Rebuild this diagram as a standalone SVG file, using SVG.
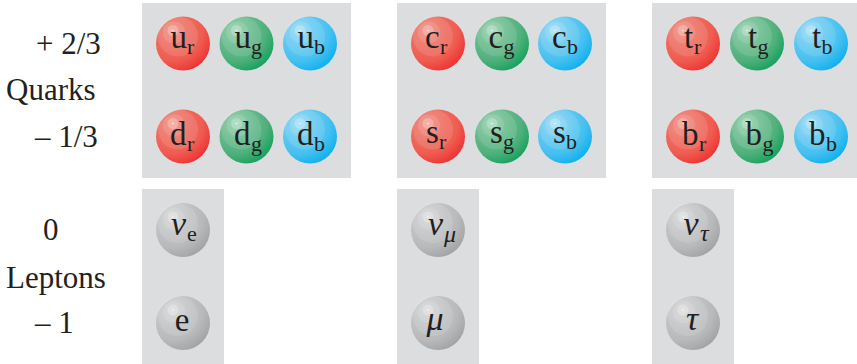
<svg xmlns="http://www.w3.org/2000/svg" width="857" height="364" viewBox="0 0 857 364">
<style>
text{font-family:"Liberation Serif","Times New Roman",serif;fill:#231f20}
.m{font-size:33px}.s{font-size:22px}
.lab{font-size:31px}
.gk{font-size:34px;font-style:italic}
.gs{font-size:24px;font-style:italic}
.p{fill:#dcddde}
.h{fill:#fff;fill-opacity:.24}
.h2{fill:#fff;fill-opacity:.11}
.d{fill:#fff;fill-opacity:.8}
</style>
<defs>
<radialGradient id="r" cx=".3" cy=".25" r=".88"><stop offset="0" stop-color="#ee7f72"/><stop offset=".65" stop-color="#ef5c50"/><stop offset=".88" stop-color="#ee3a38"/><stop offset="1" stop-color="#ed1c24"/></radialGradient>
<radialGradient id="g" cx=".3" cy=".25" r=".88"><stop offset="0" stop-color="#84c8a0"/><stop offset=".65" stop-color="#4fb07c"/><stop offset=".88" stop-color="#20a463"/><stop offset="1" stop-color="#00a651"/></radialGradient>
<radialGradient id="b" cx=".3" cy=".25" r=".88"><stop offset="0" stop-color="#86d3f3"/><stop offset=".65" stop-color="#45c0f0"/><stop offset=".88" stop-color="#18b3ee"/><stop offset="1" stop-color="#00aeef"/></radialGradient>
<radialGradient id="k" cx=".3" cy=".25" r=".88"><stop offset="0" stop-color="#cfd0d1"/><stop offset=".65" stop-color="#b8b9bb"/><stop offset=".88" stop-color="#a6a7a9"/><stop offset="1" stop-color="#939598"/></radialGradient>
<g id="gl"><circle cx="-5" cy="-7" r="20" class="h2"/><circle cx="-9" cy="-11" r="11" class="h2"/><circle cx="-10" cy="-13" r="5.500" class="h"/><circle cx="-10" cy="-13" r=".8" class="d"/></g>
</defs>
<g id="panels">
<rect class="p" x="142" y="3" width="209" height="175"/>
<rect class="p" x="397" y="3" width="209" height="175"/>
<rect class="p" x="652" y="3" width="209" height="175"/>
<rect class="p" x="142" y="189" width="82" height="175"/>
<rect class="p" x="397" y="189" width="82" height="175"/>
<rect class="p" x="652" y="189" width="82" height="175"/>
</g>
<g id="labels">
<text class="lab" x="36" y="54">+ 2/3</text>
<text class="lab" x="6" y="100">Quarks</text>
<text class="lab" x="35" y="147">– 1/3</text>
<text class="lab" x="43" y="240">0</text>
<text class="lab" x="6" y="288">Leptons</text>
<text class="lab" x="35" y="333">– 1</text>
</g>
<g id="ur"><circle cx="183" cy="43.500" r="27" fill="url(#r)"/><use href="#gl" x="183" y="43.500"/><text x="170.500" y="48" class="m">u</text><text x="187" y="54" class="s">r</text></g>
<g id="ug"><circle cx="246.500" cy="43.500" r="27" fill="url(#g)"/><use href="#gl" x="246.500" y="43.500"/><text x="234.500" y="48" class="m">u</text><text x="251" y="54" class="s">g</text></g>
<g id="ub"><circle cx="310" cy="43.500" r="27" fill="url(#b)"/><use href="#gl" x="310" y="43.500"/><text x="297.500" y="48" class="m">u</text><text x="314" y="54" class="s">b</text></g>
<g id="dr"><circle cx="183" cy="136.500" r="27" fill="url(#r)"/><use href="#gl" x="183" y="136.500"/><text x="170" y="144.500" class="m">d</text><text x="187" y="151" class="s">r</text></g>
<g id="dg"><circle cx="246.500" cy="136.500" r="27" fill="url(#g)"/><use href="#gl" x="246.500" y="136.500"/><text x="234" y="144.500" class="m">d</text><text x="251" y="151" class="s">g</text></g>
<g id="db"><circle cx="310" cy="136.500" r="27" fill="url(#b)"/><use href="#gl" x="310" y="136.500"/><text x="297" y="144.500" class="m">d</text><text x="314" y="151" class="s">b</text></g>
<g id="cr"><circle cx="438" cy="43.500" r="27" fill="url(#r)"/><use href="#gl" x="438" y="43.500"/><text x="425" y="48" class="m">c</text><text x="440" y="54" class="s">r</text></g>
<g id="cg"><circle cx="502" cy="43.500" r="27" fill="url(#g)"/><use href="#gl" x="502" y="43.500"/><text x="488.500" y="48" class="m">c</text><text x="503.500" y="54" class="s">g</text></g>
<g id="cb"><circle cx="565" cy="43.500" r="27" fill="url(#b)"/><use href="#gl" x="565" y="43.500"/><text x="552" y="48" class="m">c</text><text x="567" y="54" class="s">b</text></g>
<g id="sr"><circle cx="438" cy="136.500" r="27" fill="url(#r)"/><use href="#gl" x="438" y="136.500"/><text x="426" y="142.500" class="m">s</text><text x="439" y="148.500" class="s">r</text></g>
<g id="sg"><circle cx="502" cy="136.500" r="27" fill="url(#g)"/><use href="#gl" x="502" y="136.500"/><text x="490" y="142.500" class="m">s</text><text x="503" y="148.500" class="s">g</text></g>
<g id="sb"><circle cx="565" cy="136.500" r="27" fill="url(#b)"/><use href="#gl" x="565" y="136.500"/><text x="553" y="142.500" class="m">s</text><text x="566" y="148.500" class="s">b</text></g>
<g id="tr"><circle cx="693" cy="43.500" r="27" fill="url(#r)"/><use href="#gl" x="693" y="43.500"/><text x="684" y="48" class="m">t</text><text x="694" y="54" class="s">r</text></g>
<g id="tg"><circle cx="757" cy="43.500" r="27" fill="url(#g)"/><use href="#gl" x="757" y="43.500"/><text x="748" y="48" class="m">t</text><text x="757.500" y="54" class="s">g</text></g>
<g id="tb"><circle cx="821" cy="43.500" r="27" fill="url(#b)"/><use href="#gl" x="821" y="43.500"/><text x="812" y="48" class="m">t</text><text x="821.500" y="54" class="s">b</text></g>
<g id="br"><circle cx="693" cy="136.500" r="27" fill="url(#r)"/><use href="#gl" x="693" y="136.500"/><text x="682" y="144.500" class="m">b</text><text x="699" y="151" class="s">r</text></g>
<g id="bg"><circle cx="757" cy="136.500" r="27" fill="url(#g)"/><use href="#gl" x="757" y="136.500"/><text x="745.500" y="144.500" class="m">b</text><text x="762.500" y="151" class="s">g</text></g>
<g id="bb"><circle cx="821" cy="136.500" r="27" fill="url(#b)"/><use href="#gl" x="821" y="136.500"/><text x="809" y="144.500" class="m">b</text><text x="826" y="151" class="s">b</text></g>
<g id="nue"><circle cx="183" cy="230" r="27" fill="url(#k)"/><use href="#gl" x="183" y="230"/><text x="171" y="235" class="gk">ν</text><text x="187" y="241" class="s">e</text></g>
<g id="numu"><circle cx="438" cy="230" r="27" fill="url(#k)"/><use href="#gl" x="438" y="230"/><text x="428" y="235" class="gk">ν</text><text x="444" y="242" class="gs">μ</text></g>
<g id="nutau"><circle cx="693" cy="230" r="27" fill="url(#k)"/><use href="#gl" x="693" y="230"/><text x="683.500" y="235" class="gk">ν</text><text x="700" y="241" class="gs">τ</text></g>
<g id="e"><circle cx="183" cy="323" r="27" fill="url(#k)"/><use href="#gl" x="183" y="323"/><text x="182" y="331" class="m" text-anchor="middle">e</text></g>
<g id="mu"><circle cx="438" cy="323" r="27" fill="url(#k)"/><use href="#gl" x="438" y="323"/><text x="435" y="329.500" class="gk" text-anchor="middle">μ</text></g>
<g id="tau"><circle cx="693" cy="323" r="27" fill="url(#k)"/><use href="#gl" x="693" y="323"/><text x="692" y="330" class="gk" text-anchor="middle">τ</text></g>
</svg>
